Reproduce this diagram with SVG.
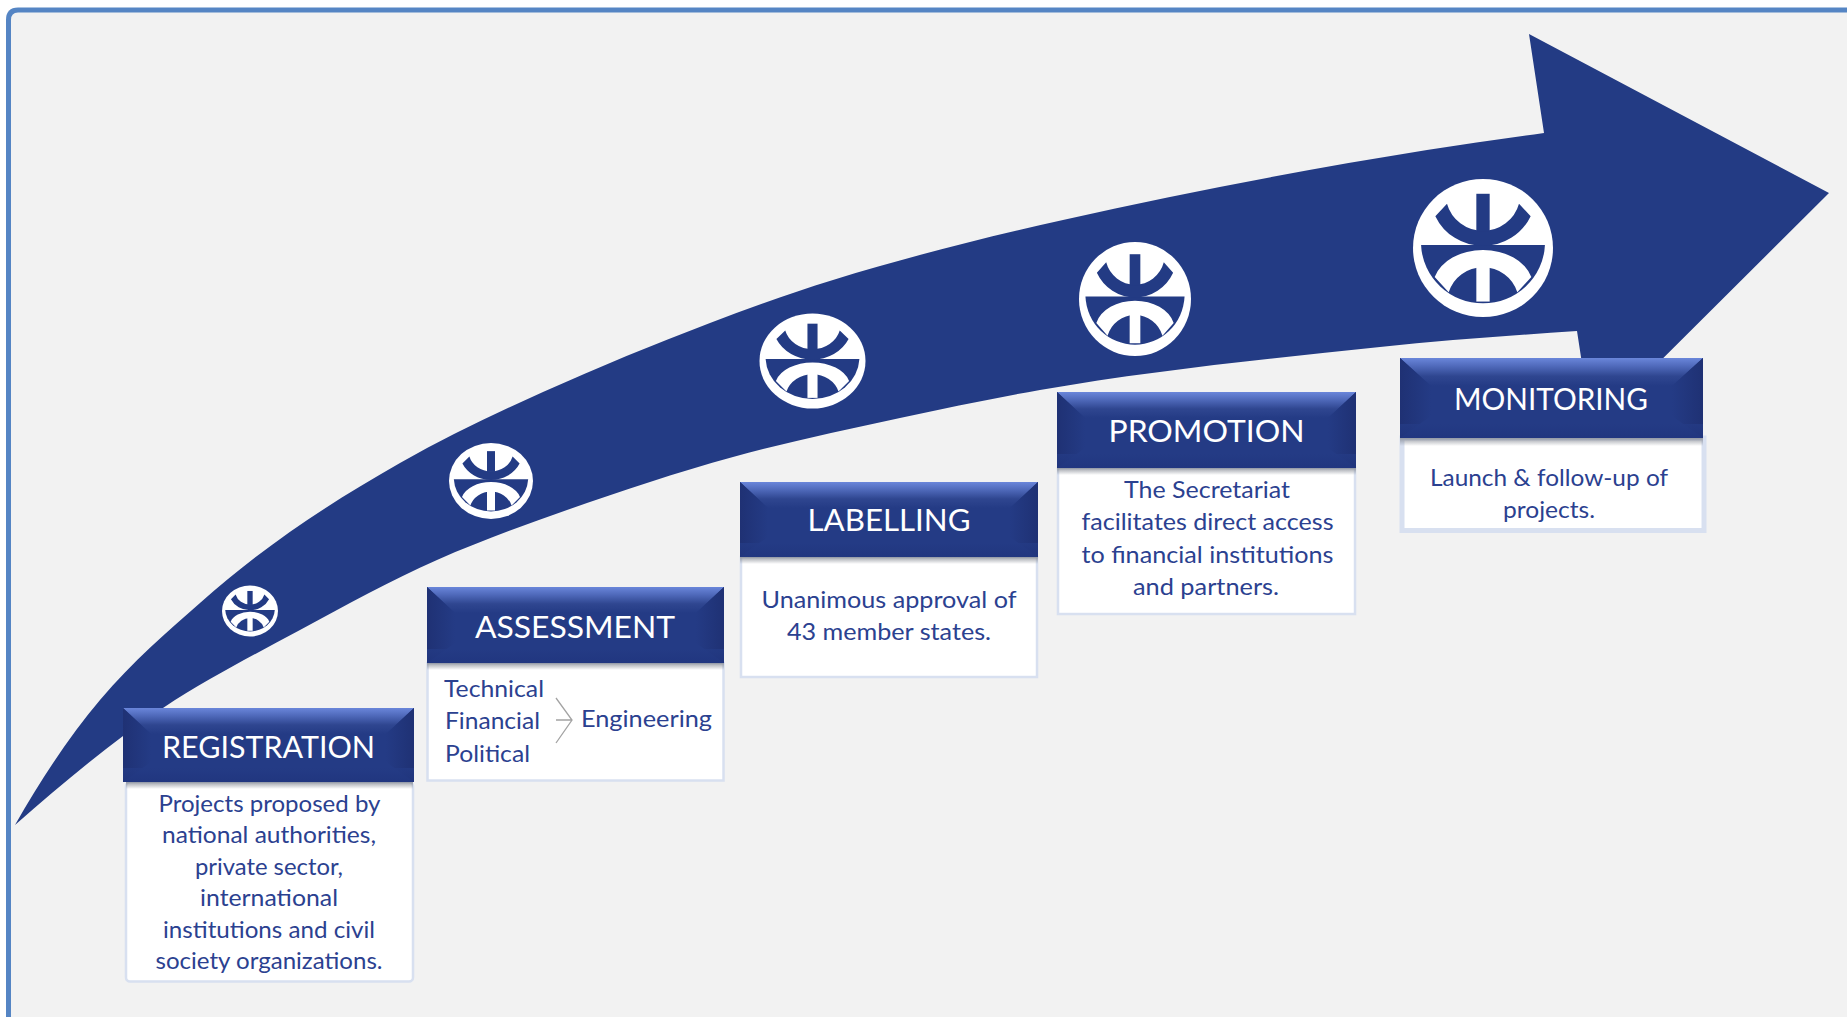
<svg xmlns="http://www.w3.org/2000/svg" xmlns:xlink="http://www.w3.org/1999/xlink" width="1847" height="1018" viewBox="0 0 1847 1018">
<style>
.h{font-family:Lato,"Liberation Sans",sans-serif;font-size:31.5px;fill:#ffffff;text-anchor:middle}
.b{font-family:Lato,"Liberation Sans",sans-serif;font-size:23px;fill:#2b4190;text-anchor:middle}
.l{text-anchor:start}
.box{fill:#ffffff;stroke:#d8e0f0;stroke-width:2.5}
.hd{fill:#243b85}
</style>
<defs>
<linearGradient id="gt" x1="0" y1="0" x2="0" y2="1"><stop offset="0" stop-color="#6a86da"/><stop offset=".3" stop-color="#4f69ba"/><stop offset=".65" stop-color="#2f4690"/><stop offset="1" stop-color="#243b85"/></linearGradient>
<linearGradient id="gl" x1="0" y1="0" x2="1" y2="0"><stop offset="0" stop-color="#1f3174"/><stop offset="1" stop-color="#243b85"/></linearGradient>
<linearGradient id="gr" x1="1" y1="0" x2="0" y2="0"><stop offset="0" stop-color="#1f3174"/><stop offset="1" stop-color="#243b85"/></linearGradient>
<linearGradient id="gb" x1="0" y1="0" x2="0" y2="1"><stop offset="0" stop-color="#243b85"/><stop offset="1" stop-color="#20357e"/></linearGradient>
<linearGradient id="gs" x1="0" y1="0" x2="0" y2="1"><stop offset="0" stop-color="#7d828c" stop-opacity=".75"/><stop offset="1" stop-color="#7d828c" stop-opacity="0"/></linearGradient>
<g id="logo">
<circle r="210" fill="#ffffff"/>
<path fill="#233b84" d="M-185.8,-9H185.8A186,186 0 0 1 -185.8,-9Z"/>
<path fill="#233b84" d="M-143,-97L-108,-135A112,112 0 0 0 108,-135L143,-97A158,158 0 0 1 -143,-97Z"/>
<rect x="-20" y="-165" width="40" height="115" fill="#233b84"/>
<path fill="#ffffff" d="M-145,88L-103,135A107.6,107.6 0 0 1 103,135L145,88A150,110 0 0 0 -145,88Z"/>
<rect x="-20" y="51" width="40" height="112" fill="#ffffff"/>
</g>
</defs>
<rect width="1847" height="1018" fill="#ffffff"/>
<rect id="panel" x="8" y="10" width="1839" height="1007" fill="#f2f2f2"/>
<path id="frame" d="M8.5,1017V20Q8.5,10 18,10H1847" fill="none" stroke="#5585c4" stroke-width="5"/>
<g id="connectors">
<path id="arrow" fill="#233b84" d="M15,825C43.3,775.4 71.7,733.4 100,700C133.3,660.7 166.7,632.6 200,603C266.7,543.7 333.3,501 400,463C447.7,435.8 495.3,413.5 543,392C598.7,367 654.3,344.2 710,323C751,307.4 792,292.7 833,280C909.7,256.2 986.3,237.3 1063,220C1184.3,192.7 1305.7,169.4 1427,150C1466,143.8 1505,138.5 1544,133L1529,34L1829,193L1592,429L1577,331C1511.3,335.6 1445.7,340.1 1380,347C1266.7,358.9 1153.3,370.2 1040,390C993.3,398.2 946.7,408 900,418C844.3,430 788.7,441.7 733,457C677.7,472.2 622.3,490.6 567,510C523.7,525.2 480.3,541 437,560C391.3,580.1 345.7,605.3 300,630C254.3,654.7 208.7,677.8 163,708C113.7,740.5 64.3,781.6 15,825Z"/>
</g>
<g id="logos">
<use id="logo1" xlink:href="#logo" href="#logo" transform="translate(250,611) scale(.1333,.1214)"/>
<use id="logo2" xlink:href="#logo" href="#logo" transform="translate(491,481) scale(.2,.181)"/>
<use id="logo3" xlink:href="#logo" href="#logo" transform="translate(812.5,361) scale(.2524,.2262)"/>
<use id="logo4" xlink:href="#logo" href="#logo" transform="translate(1135,299) scale(.2667,.2714)"/>
<use id="logo5" xlink:href="#logo" href="#logo" transform="translate(1483,248) scale(.3333,.3286)"/>
</g>
<g id="registration">
<rect class="box" x="126" y="782" width="287" height="199.5" rx="4"/>
<rect x="126" y="782" width="287" height="7" fill="url(#gs)"/>
<g transform="translate(123,708)">
<rect class="hd" width="291" height="74"/>
<polygon points="0,0 291,0 263,26 28,26" fill="url(#gt)"/>
<polygon points="0,0 28,26 28,54 0,74" fill="url(#gl)"/>
<polygon points="291,0 263,26 263,54 291,74" fill="url(#gr)"/>
<rect x="0" y="60" width="291" height="14" fill="url(#gb)" opacity=".8"/>
</g>
<text class="h" x="268.5" y="758" textLength="213" lengthAdjust="spacingAndGlyphs">REGISTRATION</text>
<text class="b" x="269.5" y="812" textLength="222" lengthAdjust="spacingAndGlyphs">Projects proposed by</text>
<text class="b" x="269" y="843" textLength="214" lengthAdjust="spacingAndGlyphs">national authorities,</text>
<text class="b" x="269" y="874.5" textLength="148" lengthAdjust="spacingAndGlyphs">private sector,</text>
<text class="b" x="269" y="906" textLength="138" lengthAdjust="spacingAndGlyphs">international</text>
<text class="b" x="269" y="937.5" textLength="212" lengthAdjust="spacingAndGlyphs">institutions and civil</text>
<text class="b" x="269" y="969" textLength="227" lengthAdjust="spacingAndGlyphs">society organizations.</text>
</g>
<g id="assessment">
<rect class="box" x="427.5" y="663" width="296" height="117.5"/>
<rect x="427" y="663" width="297" height="7" fill="url(#gs)"/>
<g transform="translate(427,587)">
<rect class="hd" width="297" height="76"/>
<polygon points="0,0 297,0 269,26 28,26" fill="url(#gt)"/>
<polygon points="0,0 28,26 28,56 0,76" fill="url(#gl)"/>
<polygon points="297,0 269,26 269,56 297,76" fill="url(#gr)"/>
<rect x="0" y="62" width="297" height="14" fill="url(#gb)" opacity=".8"/>
</g>
<text class="h" x="575" y="638" textLength="200" lengthAdjust="spacingAndGlyphs">ASSESSMENT</text>
<text class="b l" x="444" y="697" textLength="100" lengthAdjust="spacingAndGlyphs">Technical</text>
<text class="b l" x="445" y="729" textLength="95" lengthAdjust="spacingAndGlyphs">Financial</text>
<text class="b l" x="445" y="761.5" textLength="85" lengthAdjust="spacingAndGlyphs">Political</text>
<text class="b l" x="581" y="727" textLength="131" lengthAdjust="spacingAndGlyphs">Engineering</text>
</g>
<g id="labelling">
<rect class="box" x="741" y="557" width="296" height="120"/>
<rect x="740" y="557" width="298" height="7" fill="url(#gs)"/>
<g transform="translate(740,482)">
<rect class="hd" width="298" height="75"/>
<polygon points="0,0 298,0 270,26 28,26" fill="url(#gt)"/>
<polygon points="0,0 28,26 28,55 0,75" fill="url(#gl)"/>
<polygon points="298,0 270,26 270,55 298,75" fill="url(#gr)"/>
<rect x="0" y="61" width="298" height="14" fill="url(#gb)" opacity=".8"/>
</g>
<text class="h" x="889" y="531" textLength="163" lengthAdjust="spacingAndGlyphs">LABELLING</text>
<text class="b" x="889" y="607.5" textLength="255" lengthAdjust="spacingAndGlyphs">Unanimous approval of</text>
<text class="b" x="889" y="639.5" textLength="204" lengthAdjust="spacingAndGlyphs">43 member states.</text>
</g>
<g id="promotion">
<rect class="box" x="1058" y="468" width="297" height="146"/>
<rect x="1057" y="468" width="299" height="7" fill="url(#gs)"/>
<g transform="translate(1057,392)">
<rect class="hd" width="299" height="76"/>
<polygon points="0,0 299,0 271,26 28,26" fill="url(#gt)"/>
<polygon points="0,0 28,26 28,56 0,76" fill="url(#gl)"/>
<polygon points="299,0 271,26 271,56 299,76" fill="url(#gr)"/>
<rect x="0" y="62" width="299" height="14" fill="url(#gb)" opacity=".8"/>
</g>
<text class="h" x="1206.5" y="442" textLength="196" lengthAdjust="spacingAndGlyphs">PROMOTION</text>
<text class="b" x="1207" y="498" textLength="166" lengthAdjust="spacingAndGlyphs">The Secretariat</text>
<text class="b" x="1207.5" y="530" textLength="252" lengthAdjust="spacingAndGlyphs">facilitates direct access</text>
<text class="b" x="1207.5" y="562.5" textLength="252" lengthAdjust="spacingAndGlyphs">to financial institutions</text>
<text class="b" x="1206" y="595" textLength="146" lengthAdjust="spacingAndGlyphs">and partners.</text>
</g>
<g id="monitoring">
<rect class="box" x="1402" y="438" width="302" height="92.5" style="stroke-width:5"/>
<rect x="1400" y="438" width="303" height="8" fill="url(#gs)"/>
<g transform="translate(1400,358)">
<rect class="hd" width="303" height="80"/>
<polygon points="0,0 303,0 272,28 31,28" fill="url(#gt)"/>
<polygon points="0,0 31,28 31,58 0,80" fill="url(#gl)"/>
<polygon points="303,0 272,28 272,58 303,80" fill="url(#gr)"/>
<rect x="0" y="66" width="303" height="14" fill="url(#gb)" opacity=".8"/>
</g>
<text class="h" x="1551" y="410" textLength="194" lengthAdjust="spacingAndGlyphs">MONITORING</text>
<text class="b" x="1549" y="485.5" textLength="238" lengthAdjust="spacingAndGlyphs">Launch &amp; follow-up of</text>
<text class="b" x="1549" y="518" textLength="92" lengthAdjust="spacingAndGlyphs">projects.</text>
</g>
<g id="connector-chevron">
<path id="chevron" fill="none" stroke="#a3a3a3" stroke-width="1.3" d="M556,698L572,720L556,743M556,720H572"/>
</g>
</svg>
